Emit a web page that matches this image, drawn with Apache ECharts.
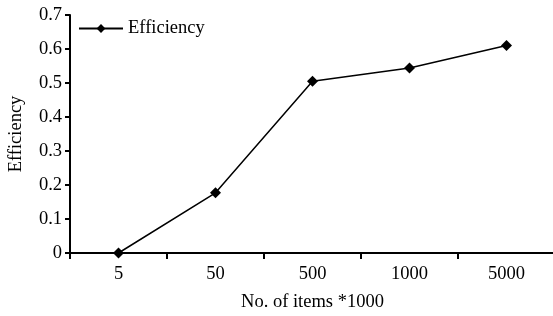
<!DOCTYPE html>
<html>
<head>
<meta charset="utf-8">
<script src="https://cdn.jsdelivr.net/npm/echarts@6/dist/echarts.min.js"></script>
<style>
  html, body { margin: 0; padding: 0; background: #fff; }
  #chart { width: 553px; height: 316px; }
</style>
</head>
<body>
<div id="chart"></div>
<script>
var categories = ['5', '50', '500', '1000', '5000'];
var efficiency = [0, 0.177, 0.505, 0.544, 0.61];
var seriesName = 'Efficiency';

var font = '"Liberation Serif", "Times New Roman", serif';
var chart = echarts.init(document.getElementById('chart'));

var option = {
    animation: false,
    textStyle: { fontFamily: font, color: '#000' },
    legend: {
        data: [seriesName],
        left: 73,
        top: 14,
        itemWidth: 44,
        itemHeight: 11,
        itemGap: 6,
        textStyle: { fontFamily: font, fontSize: 18.5, color: '#000' }
    },
    grid: {
        left: 70,
        right: -2,
        top: 15,
        bottom: 63,
        containLabel: false,
        outerBoundsMode: 'none'
    },
    xAxis: {
        type: 'category',
        data: categories,
        boundaryGap: true,
        name: 'No. of items *1000',
        nameLocation: 'middle',
        nameGap: 40,
        nameTextStyle: { fontFamily: font, fontSize: 18.5, color: '#000' },
        axisLine: { lineStyle: { color: '#000', width: 2 } },
        axisTick: { show: true, length: 6, lineStyle: { color: '#000', width: 2 } },
        axisLabel: { fontFamily: font, fontSize: 18.5, color: '#000', margin: 12 },
        splitLine: { show: false }
    },
    yAxis: {
        type: 'value',
        min: 0,
        max: 0.7,
        interval: 0.1,
        name: 'Efficiency',
        nameLocation: 'middle',
        nameGap: 44,
        nameTextStyle: { fontFamily: font, fontSize: 18.5, color: '#000' },
        axisLine: { show: true, lineStyle: { color: '#000', width: 2 } },
        axisTick: { show: true, length: 5, lineStyle: { color: '#000', width: 2 } },
        axisLabel: { fontFamily: font, fontSize: 18.5, color: '#000', margin: 8 },
        splitLine: { show: false }
    },
    series: [
        {
            name: seriesName,
            type: 'line',
            data: efficiency,
            symbol: 'diamond',
            symbolSize: 11,
            itemStyle: { color: '#000' },
            lineStyle: { color: '#000', width: 1.5 }
        }
    ]
};
chart.setOption(option);
</script>
</body>
</html>
